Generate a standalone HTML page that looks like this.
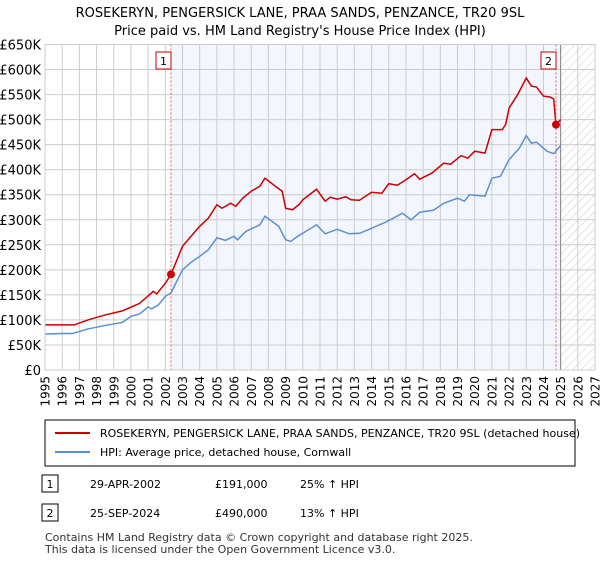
<!DOCTYPE html>
<html><head><meta charset="utf-8"><style>
body{margin:0;background:#fff;font-family:"Liberation Sans","DejaVu Sans",sans-serif;}
svg text{font-family:"DejaVu Sans","Liberation Sans",sans-serif;}
</style></head><body>
<svg id="c" width="600" height="560" viewBox="0 0 600 560">
<defs><pattern id="hatch" width="6" height="6" patternUnits="userSpaceOnUse" patternTransform="rotate(45)"><line x1="0" y1="0" x2="0" y2="6" stroke="#ccc" stroke-width="1"/></pattern></defs>
<text x="300" y="17" text-anchor="middle" font-size="13">ROSEKERYN, PENGERSICK LANE, PRAA SANDS, PENZANCE, TR20 9SL</text>
<text x="300" y="35" text-anchor="middle" font-size="13">Price paid vs. HM Land Registry's House Price Index (HPI)</text>
<g id="plot"></g>
<rect x="45" y="420" width="530" height="46" fill="#fff" stroke="#000" stroke-width="1"/>
<line x1="55" y1="433" x2="90" y2="433" stroke="#cc0000" stroke-width="2"/>
<text x="100" y="437" font-size="11">ROSEKERYN, PENGERSICK LANE, PRAA SANDS, PENZANCE, TR20 9SL (detached house)</text>
<line x1="55" y1="452" x2="90" y2="452" stroke="#5b8fd4" stroke-width="2"/>
<text x="100" y="456" font-size="11">HPI: Average price, detached house, Cornwall</text>
<rect x="42" y="475" width="16" height="17" fill="#fff" stroke="#000"/>
<text x="50" y="488" font-size="11" text-anchor="middle">1</text>
<text x="90" y="488" font-size="11">29-APR-2002</text>
<text x="215" y="488" font-size="11">£191,000</text>
<text x="300" y="488" font-size="11">25% ↑ HPI</text>
<rect x="42" y="504" width="16" height="17" fill="#fff" stroke="#000"/>
<text x="50" y="517" font-size="11" text-anchor="middle">2</text>
<text x="90" y="517" font-size="11">25-SEP-2024</text>
<text x="215" y="517" font-size="11">£490,000</text>
<text x="300" y="517" font-size="11">13% ↑ HPI</text>
<text x="45" y="541" font-size="11" fill="#333">Contains HM Land Registry data © Crown copyright and database right 2025.</text>
<text x="45" y="553" font-size="11" fill="#333">This data is licensed under the Open Government Licence v3.0.</text>
</svg>
<script>
const hpiYears=[1995,1996,1996.6,1997.5,1998.5,1999.5,2000,2000.5,2001,2001.2,2001.6,2002,2002.33,2003,2003.5,2004,2004.5,2005,2005.5,2006,2006.2,2006.7,2007.5,2007.8,2008.6,2009,2009.3,2009.7,2010,2010.8,2011.3,2012,2012.7,2013.3,2014,2014.8,2015.8,2016.3,2016.8,2017.6,2018.2,2019,2019.4,2019.7,2020.6,2021,2021.5,2022,2022.6,2023,2023.3,2023.6,2024.2,2024.6,2025];
const hpiValues=[72,73,73,82,89,95,107,112,126,122,130,147,154,200,215,227,240,264,259,267,260,277,290,307,287,260,257,267,273,290,272,281,272,273,283,295,313,300,315,319,333,343,337,350,347,383,387,420,443,468,453,455,437,432,448];
const priceYears=[1995,1996,1996.7,1997.5,1998.5,1999.5,2000.5,2001.3,2001.5,2002,2002.33,2003,2003.5,2004,2004.5,2005,2005.3,2005.8,2006.1,2006.5,2007,2007.5,2007.8,2008.4,2008.8,2009,2009.4,2009.8,2010,2010.8,2011.3,2011.6,2012,2012.5,2012.8,2013.3,2014,2014.6,2015,2015.5,2016,2016.5,2016.8,2017.5,2018.2,2018.6,2019.2,2019.6,2020,2020.6,2021,2021.6,2021.8,2022,2022.5,2023,2023.3,2023.6,2024,2024.4,2024.6,2024.7,2024.73,2025];
const priceValues=[90,90,90,100,110,118,133,157,152,173,191,247,267,287,303,330,323,333,327,343,357,367,383,367,357,323,320,331,340,361,337,345,341,346,340,339,355,353,372,369,380,392,381,393,413,411,428,423,437,433,480,480,490,523,550,583,567,565,547,545,541,500,490,500];
const saleYears=[2002.33,2024.73];
const saleValues=[191,490];
const saleLabels=["1","2"];
const yTicks=[0,50,100,150,200,250,300,350,400,450,500,550,600,650];
const xTicks=[1995,1996,1997,1998,1999,2000,2001,2002,2003,2004,2005,2006,2007,2008,2009,2010,2011,2012,2013,2014,2015,2016,2017,2018,2019,2020,2021,2022,2023,2024,2025,2026,2027];
const X0=45,X1=595,Y0=370,Y1=44.5;
const x=y=>X0+(y-1995)/32*(X1-X0);
const y=v=>Y0-v/650*(Y0-Y1);
const NS="http://www.w3.org/2000/svg";
const g=document.getElementById('plot');
function mk(t,a){const e=document.createElementNS(NS,t);for(const k in a)e.setAttribute(k,a[k]);g.appendChild(e);return e;}
let r=mk('rect',{x:x(2002.33),y:Y1,width:x(2025)-x(2002.33),height:Y0-Y1,fill:'#eef3fc',opacity:0.7});


r=mk('rect',{x:x(2025),y:Y1,width:X1-x(2025),height:Y0-Y1,fill:'url(#hatch)'});


yTicks.forEach(v=>{
 let l=mk('line',{x1:X0,x2:X1,y1:y(v),y2:y(v),stroke:'#ccc'});
 
 
 let t=mk('text',{x:41,y:y(v)+5,'text-anchor':'end','font-size':13});
 
 
 t.textContent=v===0?'£0':'£'+v+'K';
});
xTicks.forEach(v=>{
 let l=mk('line',{x1:x(v),x2:x(v),y1:Y1,y2:Y0,stroke:'#ccc'});
 
 
 const tx=x(v)+4.5, ty=376;
 let t=mk('text',{x:tx,y:ty,'text-anchor':'end','font-size':12,transform:'rotate(-90 '+tx+' '+ty+')'});
 
 
 t.textContent=v;
});
let vl=mk('line',{x1:x(2025),x2:x(2025),y1:Y1,y2:Y0,stroke:'#888','stroke-width':1});


let h=mk('polyline',{points:hpiYears.map((t,i)=>x(t)+','+y(hpiValues[i])).join(' '),fill:'none',stroke:'#5b8fd4','stroke-width':1.5});


let p=mk('polyline',{points:priceYears.map((t,i)=>x(t)+','+y(priceValues[i])).join(' '),fill:'none',stroke:'#cc0000','stroke-width':1.5});


saleYears.forEach((t,i)=>{
 let d=mk('line',{x1:x(t),x2:x(t),y1:Y1,y2:Y0,stroke:'#e06060','stroke-dasharray':'2,2'});
 
 
 let c=mk('circle',{cx:x(t),cy:y(saleValues[i]),r:4,fill:'#cc0000'});
 
 
 let b=mk('rect',{x:x(t)-15,y:52,width:15,height:17,fill:'#fff',stroke:'#cc0000'});
 
 
 let tx=mk('text',{x:x(t)-7.5,y:65,'text-anchor':'middle','font-size':11});
 
 
 tx.textContent=saleLabels[i];
});
let bd=mk('rect',{x:X0,y:Y1,width:X1-X0,height:Y0-Y1,fill:'none',stroke:'#ccc'});


</script>
</body></html>
